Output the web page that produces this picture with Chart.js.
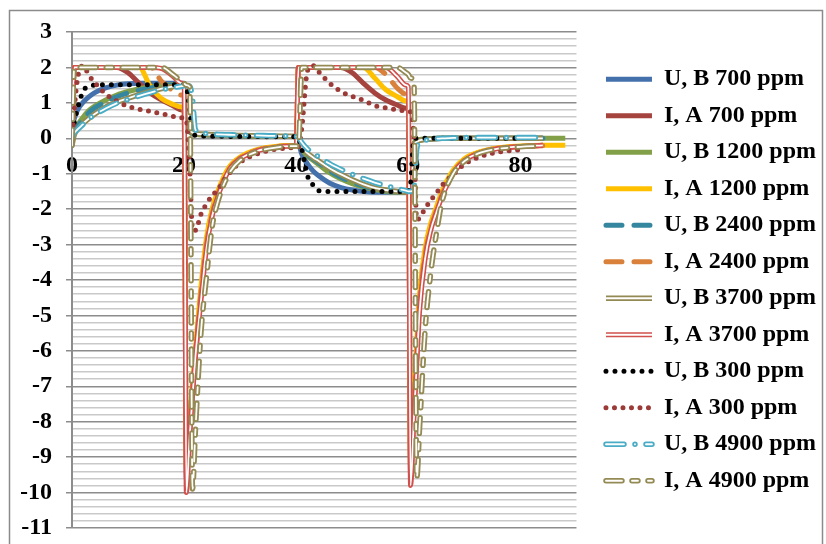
<!DOCTYPE html>
<html>
<head>
<meta charset="utf-8">
<script src="https://cdn.jsdelivr.net/npm/chart.js@4.4.0/dist/chart.umd.min.js"></script>
<style>
  html, body { margin: 0; padding: 0; background: #fff; }
</style>
</head>
<body>
<canvas id="myChart" width="826" height="544"></canvas>
<script>
// time axis (shared by all series)
const times = [
  0, 0.4, 1, 2, 3, 4, 6, 8, 10, 12, 14, 16, 18, 19.6,
  20, 20.4, 21, 21.5, 22, 23, 24, 25, 26, 28, 30, 33, 36, 39.6,
  40, 40.4, 41, 42, 43, 44, 46, 48, 50, 52, 54, 56, 58, 59.6,
  60, 60.4, 61, 61.5, 62, 63, 64, 65, 66, 68, 70, 73, 76, 80, 84, 88
];

const seriesLabels = [
  'U, B 700 ppm', 'I, A 700 ppm', 'U, B 1200 ppm', 'I, A 1200 ppm',
  'U, B 2400 ppm', 'I, A 2400 ppm', 'U, B 3700 ppm', 'I, A 3700 ppm',
  'U, B 300 ppm', 'I, A 300 ppm', 'U, B 4900 ppm', 'I, A 4900 ppm'
];

const uB700 = [
  0.3, 0.55, 0.8, 1.02, 1.17, 1.28, 1.42, 1.5, 1.54, 1.55, 1.55, 1.55, 1.55, 1.55,
  1.55, 1.3, 0.2, 0.13, 0.11, 0.1, 0.1, 0.09, 0.09, 0.08, 0.07, 0.06, 0.05, 0.05,
  0.04, -0.1, -0.45, -0.72, -0.92, -1.06, -1.27, -1.39, -1.46, -1.5, -1.52, -1.52, -1.52, -1.52,
  -1.5, -1.4, -0.15, -0.08, -0.05, -0.03, -0.02, -0.01, 0, 0, 0, 0, 0, 0, 0, null
];
const iA700 = [
  -0.2, 2, 2, 2, 2, 2, 2, 2, 1.85, 1.55, 1.27, 1.08, 0.92, 0.8,
  0.78, -9.6, -8.2, -7.1, -6.2, -4.4, -2.9, -2.05, -1.55, -0.85, -0.55, -0.34, -0.25, -0.2,
  -0.2, 2, 2, 2, 2, 2, 2, 2, 1.85, 1.55, 1.28, 1.08, 0.94, 0.85,
  0.83, -9.5, -7.5, -6.0, -4.6, -3.2, -2.5, -2.05, -1.6, -0.95, -0.6, -0.38, -0.28, -0.23, -0.2, null
];
const uB1200 = [
  0.1, 0.25, 0.38, 0.6, 0.78, 0.9, 1.08, 1.22, 1.32, 1.4, 1.45, 1.49, 1.51, 1.52,
  1.52, 1.3, 0.2, 0.13, 0.11, 0.1, 0.09, 0.09, 0.08, 0.08, 0.07, 0.06, 0.05, 0.05,
  0.04, -0.06, -0.3, -0.5, -0.62, -0.74, -0.98, -1.15, -1.28, -1.38, -1.45, -1.5, -1.52, -1.52,
  -1.5, -1.42, -0.15, -0.07, -0.04, -0.02, -0.01, 0, 0, 0, 0, 0, 0, 0, 0, 0
];
const iA1200 = [
  -0.2, 2, 2, 2, 2, 2, 2, 2, 2, 2, 1.45, 1.12, 0.96, 0.88,
  0.86, -9.3, -7.9, -6.9, -6.0, -4.2, -2.8, -2.0, -1.5, -0.82, -0.53, -0.32, -0.24, -0.2,
  -0.2, 2, 2, 2, 2, 2, 2, 2, 2, 2, 1.7, 1.37, 1.18, 1.05,
  1.02, -9.3, -7.3, -5.8, -4.4, -3.1, -2.4, -1.95, -1.5, -0.9, -0.58, -0.37, -0.27, -0.22, -0.2, -0.2
];
const uB2400 = [
  0.05, 0.2, 0.33, 0.55, 0.72, 0.85, 1.03, 1.17, 1.28, 1.36, 1.42, 1.47, 1.5, 1.52,
  1.52, 1.35, 0.25, 0.15, 0.12, 0.11, 0.1, 0.09, 0.09, 0.08, 0.07, 0.06, 0.06, 0.05,
  0.04, -0.05, -0.27, -0.46, -0.58, -0.69, -0.92, -1.1, -1.24, -1.35, -1.43, -1.48, -1.51, -1.52,
  -1.5, -1.42, -0.18, -0.08, -0.05, -0.03, -0.01, 0, 0, 0, 0, 0, 0, 0, 0, null
];
const iA2400 = [
  -0.2, 2, 2, 2, 2, 2, 2, 2, 2, 2, 2, 1.6, 1.35, 1.22,
  1.2, -8.8, -8.0, -7.0, -6.1, -4.4, -3.0, -2.15, -1.6, -0.88, -0.56, -0.34, -0.25, -0.21,
  -0.21, 2, 2, 2, 2, 2, 2, 2, 2, 2, 2, 1.8, 1.42, 1.25,
  1.2, -9.0, -7.6, -6.2, -4.7, -3.3, -2.55, -2.05, -1.6, -0.97, -0.62, -0.4, -0.29, -0.23, -0.21, null
];
const uB3700 = [
  -0.2, 0.1, 0.25, 0.42, 0.56, 0.68, 0.88, 1.02, 1.13, 1.23, 1.32, 1.4, 1.46, 1.5,
  1.5, 1.4, 0.3, 0.16, 0.13, 0.12, 0.11, 0.1, 0.1, 0.09, 0.08, 0.07, 0.06, 0.06,
  0.05, -0.04, -0.24, -0.42, -0.54, -0.64, -0.85, -1.02, -1.17, -1.3, -1.4, -1.46, -1.5, -1.52,
  -1.5, -1.44, -0.2, -0.1, -0.06, -0.03, -0.02, -0.01, 0, 0, 0, 0, 0, 0, 0, null
];
const iA3700 = [
  -0.2, 2, 2, 2, 2, 2, 2, 2, 2, 2, 2, 1.97, 1.75, 1.55,
  1.5, -10.0, -8.4, -7.3, -6.2, -4.6, -3.1, -2.2, -1.65, -0.9, -0.58, -0.36, -0.26, -0.22,
  -0.22, 2, 2, 2, 2, 2, 2, 2, 2, 2, 2, 2, 1.75, 1.5,
  1.45, -9.8, -7.9, -6.4, -4.9, -3.4, -2.6, -2.1, -1.65, -1.0, -0.63, -0.4, -0.29, -0.23, -0.2, null
];
const uB300 = [
  0.2, 0.45, 0.85, 1.33, 1.47, 1.5, 1.51, 1.51, 1.51, 1.51, 1.51, 1.51, 1.51, 1.51,
  1.51, 1.45, 0.8, 0.15, 0.08, 0.07, 0.06, 0.06, 0.06, 0.05, 0.05, 0.05, 0.04, 0.04,
  0.03, 0.0, -0.3, -1.05, -1.32, -1.48, -1.5, -1.5, -1.5, -1.5, -1.5, -1.5, -1.5, -1.5,
  -1.48, -1.3, -0.02, 0, 0, 0, 0, 0, 0, 0, 0, 0, 0, 0, null, null
];
const iA300 = [
  -0.1, 0.8, 1.7, 2.05, 1.78, 1.58, 1.25, 1.05, 0.9, 0.82, 0.76, 0.69, 0.62, 0.58,
  0.57, 0.5, -0.8, -2.6, -2.6, -2.15, -1.85, -1.62, -1.45, -1.0, -0.68, -0.44, -0.32, -0.26,
  -0.25, -0.25, 0.3, 1.9, 2.05, 1.88, 1.55, 1.32, 1.18, 1.07, 0.92, 0.86, 0.8, 0.77,
  0.76, 0.74, 0.0, -2.3, -2.25, -1.98, -1.75, -1.55, -1.33, -1.02, -0.73, -0.51, -0.39, -0.32, null, null
];
const uB4900 = [
  0.0, 0.15, 0.25, 0.4, 0.55, 0.66, 0.84, 0.99, 1.1, 1.2, 1.29, 1.37, 1.43, 1.47,
  1.48, 1.48, 1.47, 1.1, 0.25, 0.15, 0.13, 0.12, 0.11, 0.1, 0.09, 0.08, 0.07, 0.06,
  0.05, 0.03, -0.12, -0.3, -0.42, -0.52, -0.72, -0.88, -1.02, -1.14, -1.25, -1.34, -1.42, -1.48,
  -1.5, -1.5, -1.45, -0.3, -0.12, -0.06, -0.03, -0.01, 0, 0.01, 0.02, 0.02, 0.02, 0.02, 0.02, null
];
const iA4900 = [
  -0.2, 2, 2, 2, 2, 2, 2, 2, 2, 2, 2, 2, 1.8, 1.6,
  1.55, 1.5, 1.45, -9.9, -8.3, -5.5, -3.9, -2.5, -1.8, -1.0, -0.62, -0.38, -0.27, -0.22,
  -0.22, -0.2, 2, 2, 2, 2, 2, 2, 2, 2, 2, 2, 2, 1.85,
  1.8, 1.7, 1.6, -9.6, -8.2, -5.4, -3.8, -2.7, -1.8, -1.0, -0.65, -0.4, -0.3, -0.24, -0.21, null
];

const seriesValues = [uB700, iA700, uB1200, iA1200, uB2400, iA2400,
                      uB3700, iA3700, uB300, iA300, uB4900, iA4900];

// line looks, one per series (hollow = width of the white core)
const styles = [
  { color: '#4471ac', width: 5 },
  { color: '#a5433f', width: 5 },
  { color: '#82a048', width: 5 },
  { color: '#ffc000', width: 5 },
  { color: '#35879f', width: 5, dash: [16, 12], cap: 'round' },
  { color: '#d9803a', width: 5, dash: [16, 12], cap: 'round' },
  { color: '#938953', width: 5.5, hollow: 1.8 },
  { color: '#d0504d', width: 5, hollow: 1.8 },
  { color: '#000000', width: 5, dash: [0, 9], cap: 'round' },
  { color: '#9b3a36', width: 5, dash: [0, 8.5], cap: 'round' },
  { color: '#4bacc6', width: 5.5, dash: [18, 11, 0, 11], cap: 'round', hollow: 1.8 },
  { color: '#948a54', width: 5.5, dash: [16, 10, 6, 10], cap: 'round', hollow: 1.8 }
];

const FONT = "'Liberation Serif', 'Times New Roman', serif";

const datasets = [];
seriesValues.forEach((vals, i) => {
  const st = styles[i];
  const pts = times.map((t, k) => ({ x: t, y: vals[k] }));
  const common = {
    data: pts,
    yAxisID: 'y',
    pointRadius: 0,
    borderDash: st.dash || [],
    borderCapStyle: st.cap || 'butt',
    borderJoinStyle: 'round',
    cubicInterpolationMode: 'monotone',
    fill: false
  };
  datasets.push(Object.assign({ label: seriesLabels[i], borderColor: st.color, borderWidth: st.width, order: 100 - 2 * i }, common));
  if (st.hollow) {
    datasets.push(Object.assign({ label: seriesLabels[i], inner: true, borderColor: '#ffffff', borderWidth: st.hollow, order: 99 - 2 * i }, common));
  }
});

const isMajor = (v) => Math.abs(v - Math.round(v)) < 1e-6;

// frame round the whole picture + white cores on hollow legend samples
const framePlugin = {
  id: 'frame',
  beforeDraw(chart) {
    const ctx = chart.ctx;
    ctx.save();
    ctx.fillStyle = '#fff';
    ctx.fillRect(0, 0, chart.width, chart.height);
    ctx.strokeStyle = '#8b8b8b';
    ctx.lineWidth = 1.5;
    ctx.strokeRect(9.5, 10.5, 813, 540);
    ctx.restore();
  },
  afterDraw(chart) {
    const lg = chart.legend;
    if (!lg || !lg.legendHitBoxes) return;
    const ctx = chart.ctx;
    const fs = lg.options.labels.font.size;
    lg.legendHitBoxes.forEach((hb, k) => {
      const st = styles[k];
      if (!st || !st.hollow) return;
      ctx.save();
      ctx.strokeStyle = '#ffffff';
      ctx.lineWidth = st.hollow;
      ctx.setLineDash(st.dash || []);
      ctx.lineCap = st.cap || 'butt';
      ctx.beginPath();
      ctx.moveTo(hb.left, hb.top + fs / 2);
      ctx.lineTo(hb.left + 46, hb.top + fs / 2);
      ctx.stroke();
      ctx.restore();
    });
  }
};

Chart.defaults.font.family = FONT;
Chart.defaults.font.size = 24;
Chart.defaults.font.weight = 'bold';
Chart.defaults.color = '#000';

const ctx = document.getElementById('myChart').getContext('2d');
const myChart = new Chart(ctx, {
  type: 'line',
  data: { datasets: datasets },
  plugins: [framePlugin],
  options: {
    responsive: false,
    animation: false,
    events: [],
    layout: { padding: { left: 21, top: 32, right: 0, bottom: 16 } },
    scales: {
      x: {
        type: 'linear',
        min: 0,
        max: 90,
        position: { y: 0 },
        grid: { display: false, drawTicks: false },
        border: { display: false },
        ticks: { stepSize: 20, includeBounds: false, padding: 13, maxRotation: 0 }
      },
      y: {
        type: 'linear',
        position: 'left',
        min: -11,
        max: 3,
        border: { display: true, color: '#8c8c8c', width: 2 },
        grid: {
          color: (c) => isMajor(c.tick.value) ? '#8c8c8c' : '#c9c9c9',
          lineWidth: 1.5,
          tickColor: (c) => isMajor(c.tick.value) ? '#8c8c8c' : 'rgba(0,0,0,0)',
          tickLength: 6
        },
        ticks: {
          stepSize: 0.2,
          autoSkip: false,
          padding: 14,
          callback: (v) => isMajor(v) ? String(Math.round(v)) : ''
        },
        afterFit: (scale) => {
          scale.width = 51;
          scale.paddingTop = 0;
          scale.paddingBottom = 0;
        }
      },
      yR: {
        type: 'linear',
        position: 'right',
        display: true,
        grid: { display: false, drawTicks: false },
        border: { display: false },
        ticks: { display: false },
        afterFit: (scale) => { scale.width = 17; }
      }
    },
    plugins: {
      tooltip: { enabled: false },
      legend: {
        position: 'right',
        maxWidth: 240,
        labels: {
          usePointStyle: true,
          pointStyle: 'line',
          pointStyleWidth: 46,
          boxHeight: 4,
          padding: 12.5,
          color: '#000',
          font: { family: FONT, size: 24, weight: 'bold' },
          generateLabels: (chart) => chart.data.datasets
            .map((ds, i) => ({ ds, i }))
            .filter((o) => !o.ds.inner)
            .map(({ ds, i }) => ({
              text: ds.label,
              fillStyle: ds.borderColor,
              strokeStyle: ds.borderColor,
              lineWidth: ds.borderWidth,
              lineDash: ds.borderDash,
              lineCap: ds.borderCapStyle,
              pointStyle: 'line',
              fontColor: '#000',
              hidden: false,
              datasetIndex: i
            }))
        }
      }
    }
  }
});
</script>
</body>
</html>
